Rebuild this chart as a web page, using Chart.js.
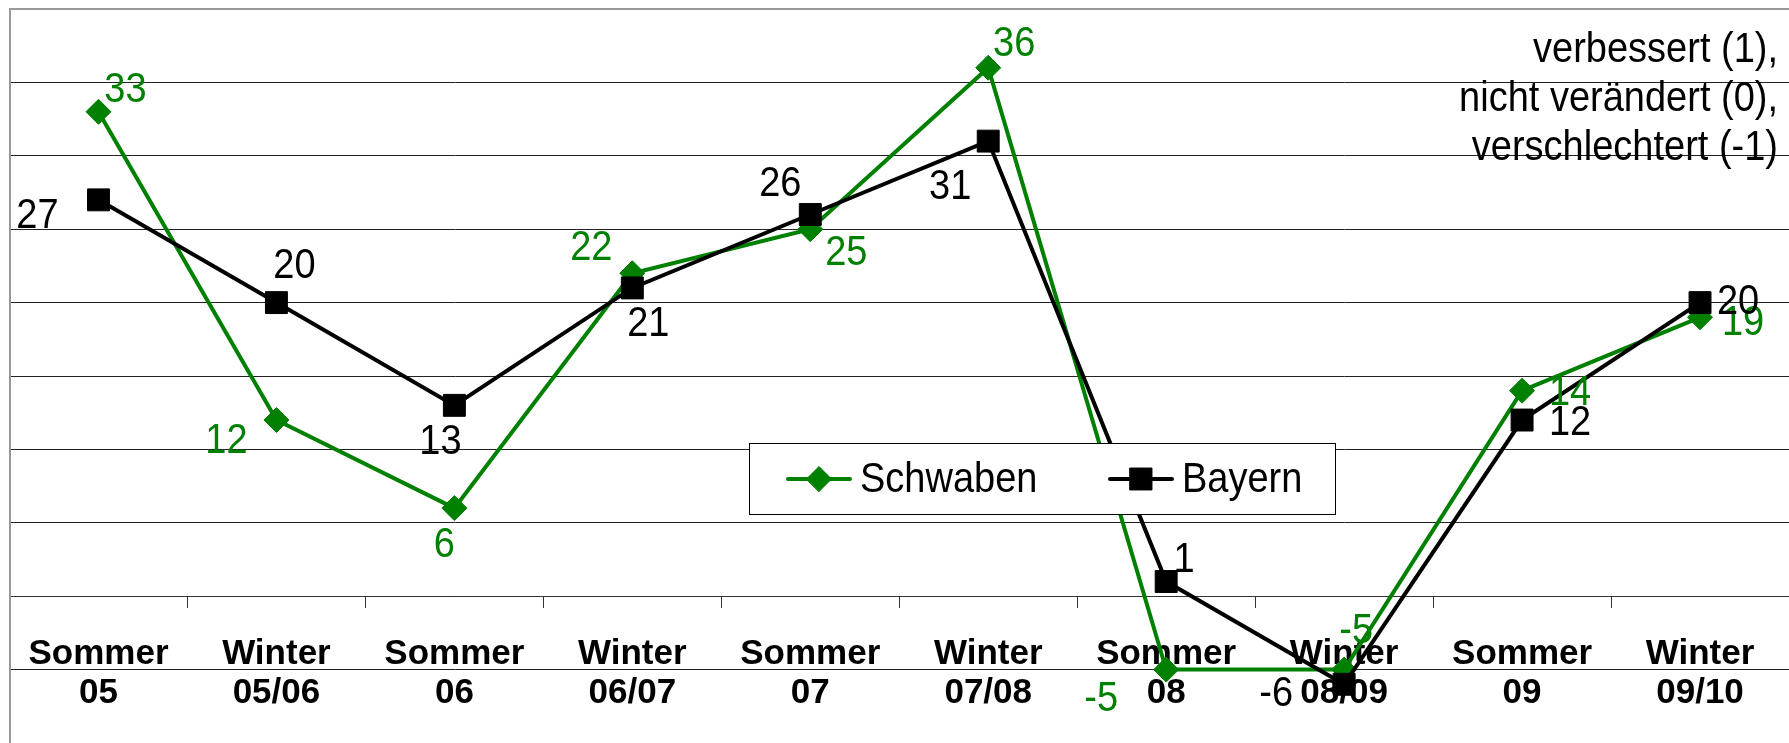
<!DOCTYPE html>
<html>
<head>
<meta charset="utf-8">
<script src="https://cdn.jsdelivr.net/npm/chart.js@4.4.1/dist/chart.umd.min.js"></script>
<style>
  html, body { margin: 0; padding: 0; background: #fff; overflow: hidden; }
  #wrap { position: relative; width: 1789px; height: 743px; }
</style>
</head>
<body>
<div id="wrap"><canvas id="chart"></canvas></div>
<script>
// Season labels (two lines each)
const seasons = [
  ['Sommer', '05'], ['Winter', '05/06'], ['Sommer', '06'], ['Winter', '06/07'],
  ['Sommer', '07'], ['Winter', '07/08'], ['Sommer', '08'], ['Winter', '08/09'],
  ['Sommer', '09'], ['Winter', '09/10']
];

// Balance values per season
const schwaben = [33, 12, 6, 22, 25, 36, -5, -5, 14, 19];
const bayern   = [27, 20, 13, 21, 26, 31, 1, -6, 12, 20];

// Explanation lines shown at the upper right
const noteLines = ['verbessert (1),', 'nicht verändert (0),', 'verschlechtert (-1)'];

// Value-label placement relative to each marker (pixels: dx, dy)
const schwabenLabelShift = [[27, -21], [-50, 21], [-10, 37], [-41, -25], [36, 24], [26, -23], [-65, 30], [12, -38], [48, 3], [43, 6]];
const bayernLabelShift   = [[-61, 17], [18, -36], [-14, 37], [16, 37], [-30, -30], [-38, 46], [18, -21], [-68, 10], [48, 3], [38, 0]];

const FONT = "'Liberation Sans', Arial, Helvetica, sans-serif";
const GREEN = '#008000';
const BLACK = '#000000';

// Text drawn slightly taller than wide, like the rest of the sheet
function tallText(ctx, text, x, y, sy) {
  ctx.save();
  ctx.translate(x, y);
  ctx.scale(1, sy);
  ctx.fillText(text, 0, 0);
  ctx.restore();
}

// Draws each value next to its marker
const valueLabels = {
  id: 'valueLabels',
  afterDatasetsDraw(chart) {
    const ctx = chart.ctx;
    ctx.save();
    ctx.font = '38px ' + FONT;
    ctx.textAlign = 'center';
    ctx.textBaseline = 'middle';
    chart.data.datasets.forEach((ds, i) => {
      const meta = chart.getDatasetMeta(i);
      meta.data.forEach((pt, j) => {
        const [dx, dy] = ds.labelShift[j];
        ctx.fillStyle = ds.borderColor;
        tallText(ctx, String(ds.data[j]), pt.x + dx, pt.y + dy, 1.1);
      });
    });
    ctx.restore();
  }
};

// Boxed legend placed inside the plot
const boxedLegend = {
  id: 'boxedLegend',
  afterDatasetsDraw(chart) {
    const ctx = chart.ctx;
    const x0 = 749.5, y0 = 443.5, w = 586, h = 71;
    ctx.save();
    ctx.fillStyle = '#fff';
    ctx.fillRect(x0, y0, w, h);
    ctx.strokeStyle = '#000';
    ctx.lineWidth = 1;
    ctx.strokeRect(x0, y0, w, h);
    const cy = y0 + h / 2;
    const entries = [
      { ds: chart.data.datasets[0], sx: 788 },
      { ds: chart.data.datasets[1], sx: 1110 }
    ];
    ctx.font = '38px ' + FONT;
    ctx.textBaseline = 'middle';
    ctx.textAlign = 'left';
    entries.forEach(({ ds, sx }) => {
      ctx.strokeStyle = ds.borderColor;
      ctx.lineWidth = 4;
      ctx.lineCap = 'round';
      ctx.beginPath();
      ctx.moveTo(sx, cy);
      ctx.lineTo(sx + 62, cy);
      ctx.stroke();
      ctx.fillStyle = ds.pointBackgroundColor;
      ctx.strokeStyle = ds.pointBorderColor;
      ctx.lineWidth = 1;
      Chart.helpers.drawPoint(ctx, {
        pointStyle: ds.pointStyle,
        radius: ds.pointRadius,
        borderWidth: 1,
        rotation: 0
      }, sx + 31, cy);
      ctx.fillStyle = '#000';
      tallText(ctx, ds.label, sx + 72, cy + 1, 1.1);
    });
    ctx.restore();
  }
};

// Right-aligned note block at the top
const noteBlock = {
  id: 'noteBlock',
  afterDraw(chart) {
    const ctx = chart.ctx;
    ctx.save();
    ctx.font = '38px ' + FONT;
    ctx.fillStyle = '#000';
    ctx.textAlign = 'right';
    ctx.textBaseline = 'middle';
    noteLines.forEach((t, i) => tallText(ctx, t, 1778, 50 + i * 49, 1.1));
    ctx.restore();
  }
};

new Chart(document.getElementById('chart'), {
  type: 'line',
  data: {
    labels: seasons,
    datasets: [
      {
        label: 'Schwaben',
        data: schwaben,
        labelShift: schwabenLabelShift,
        borderColor: GREEN,
        backgroundColor: GREEN,
        borderWidth: 4,
        pointStyle: 'rectRot',
        pointRadius: 12.5,
        pointBorderWidth: 1,
        pointBackgroundColor: GREEN,
        pointBorderColor: GREEN,
        tension: 0,
        order: 1
      },
      {
        label: 'Bayern',
        data: bayern,
        labelShift: bayernLabelShift,
        borderColor: BLACK,
        backgroundColor: BLACK,
        borderWidth: 4,
        pointStyle: 'rect',
        pointRadius: 15.5,
        pointBorderWidth: 1,
        pointBackgroundColor: BLACK,
        pointBorderColor: BLACK,
        tension: 0,
        order: 0
      }
    ]
  },
  options: {
    responsive: true,
    maintainAspectRatio: false,
    animation: false,
    devicePixelRatio: 1,
    // the plot runs a few pixels past the right and bottom edges
    layout: { autoPadding: false, padding: { left: 9, top: 9, right: -5, bottom: -6 } },
    plugins: {
      legend: { display: false },
      tooltip: { enabled: false },
      title: { display: false }
    },
    scales: {
      x: {
        type: 'category',
        offset: true,
        position: { y: 0 },
        grid: {
          display: true,
          drawOnChartArea: false,
          drawTicks: true,
          tickLength: 11,
          offset: true,
          color: '#333',
          lineWidth: 1
        },
        border: { display: true, color: '#333', width: 1 },
        ticks: {
          color: '#000',
          padding: 28,
          maxRotation: 0,
          autoSkip: false,
          font: { family: FONT, size: 35, weight: 'bold', lineHeight: 1.11 }
        }
      },
      y: {
        min: -10,
        max: 40,
        ticks: { display: false, stepSize: 5 },
        grid: {
          drawTicks: false,
          color: (c) => (c.tick && c.tick.value === 40 ? '#999' : '#222'),
          lineWidth: (c) => (c.tick && c.tick.value === 40 ? 2 : 1)
        },
        border: { display: true, color: '#999', width: 2 }
      }
    }
  },
  plugins: [valueLabels, boxedLegend, noteBlock]
});
</script>
</body>
</html>
